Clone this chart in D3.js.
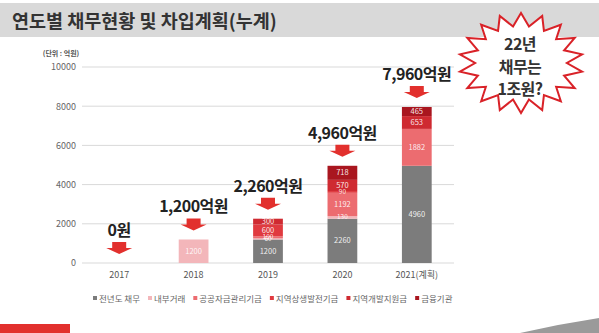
<!DOCTYPE html>
<html>
<head>
<meta charset="utf-8">
<script src="https://cdn.jsdelivr.net/npm/d3@7"></script>
<style>
  body { margin: 0; background: #fff; }
  svg { display: block; font-family: "Noto Sans CJK KR", "Noto Sans", sans-serif; }
</style>
</head>
<body>
<script>
// years and debt composition (unit: 억원)
var years = ["2017", "2018", "2019", "2020", "2021(계획)"];
var seriesNames = ["전년도 채무", "내부거래", "공공자금관리기금", "지역상생발전기금", "지역개발지원금", "금융기관"];
var prevDebt     = [0, 0, 1200, 2260, 4960];
var internal     = [0, 1200, 60, 130, 0];
var publicFund   = [0, 0, 100, 1192, 1882];
var regionalCoop = [0, 0, 600, 90, 0];
var regionalDev  = [0, 0, 300, 570, 653];
var financial    = [0, 0, 0, 718, 465];
var totalLabels  = ["0원", "1,200억원", "2,260억원", "4,960억원", "7,960억원"];
var yTicks = [0, 2000, 4000, 6000, 8000, 10000];
var burstLines = ["22년", "채무는", "1조원?"];

var colors = ["#7c7c7c", "#f3b6ba", "#ec6c70", "#e03a3f", "#cf2a31", "#a9161f"];

var w = 599, h = 333;

var rows = years.map(function(y, i) {
    return {
        year: y,
        "전년도 채무": prevDebt[i],
        "내부거래": internal[i],
        "공공자금관리기금": publicFund[i],
        "지역상생발전기금": regionalCoop[i],
        "지역개발지원금": regionalDev[i],
        "금융기관": financial[i]
    };
});
var stacked = d3.stack().keys(seriesNames)(rows);

var svg = d3.select("body").append("svg")
    .attr("width", w)
    .attr("height", h);

// title band
svg.append("rect").attr("x", 0).attr("y", 3).attr("width", w).attr("height", 34).attr("fill", "#d9d9d9");
svg.append("text")
    .attr("x", 12).attr("y", 28)
    .attr("font-size", 18.5).attr("font-weight", "bold").attr("fill", "#333")
    .text("연도별 채무현황 및 차입계획(누계)");

var x = d3.scaleBand().domain(years).range([82, 454]).paddingInner(0.6).paddingOuter(0.3);
var y = d3.scaleLinear().domain([0, 10000]).range([263, 67]);

// grid + y labels
var grid = svg.append("g").attr("id", "grid");
grid.selectAll("line").data(yTicks).enter().append("line")
    .attr("x1", 82).attr("x2", 454)
    .attr("y1", function(d) { return y(d); })
    .attr("y2", function(d) { return y(d); })
    .attr("stroke", "#d9d9d9");

var yAxis = svg.append("g").attr("transform", "translate(76,0)")
    .call(d3.axisLeft(y).tickValues(yTicks).tickSize(0).tickPadding(0).tickFormat(d3.format("d")));
yAxis.select(".domain").remove();
yAxis.selectAll("text").attr("font-size", 9).attr("fill", "#666").attr("font-family", "Noto Sans CJK KR");

svg.append("text").attr("x", 61).attr("y", 56).attr("text-anchor", "middle")
    .attr("font-size", 7).attr("font-weight", "bold").attr("fill", "#555")
    .text("(단위 : 억원)");

var xAxis = svg.append("g").attr("transform", "translate(0,272)")
    .call(d3.axisBottom(x).tickSize(0).tickPadding(0));
xAxis.select(".domain").remove();
xAxis.selectAll("text").attr("font-size", 9).attr("fill", "#555").attr("font-family", "Noto Sans CJK KR");

// stacked bars
var layers = svg.append("g").attr("id", "bars").selectAll("g")
    .data(stacked).enter().append("g")
    .attr("fill", function(d, i) { return colors[i]; });

layers.selectAll("rect")
    .data(function(d) { return d; })
    .enter().append("rect")
    .attr("x", function(d) { return x(d.data.year); })
    .attr("y", function(d) { return y(d[1]); })
    .attr("width", x.bandwidth())
    .attr("height", function(d) { return y(d[0]) - y(d[1]); });

// value labels inside segments; thin segments get a smaller font
var segLabels = [];
stacked.forEach(function(s) {
    s.forEach(function(d) {
        var v = d[1] - d[0];
        if (v > 0) segLabels.push({ year: d.data.year, v: v, mid: (d[0] + d[1]) / 2 });
    });
});
svg.append("g").selectAll("text").data(segLabels).enter().append("text")
    .attr("x", function(d) { return x(d.year) + x.bandwidth() / 2; })
    .attr("y", function(d) { return y(d.mid) + (d.v < 200 ? 2 : 2.5); })
    .attr("text-anchor", "middle")
    .attr("font-size", function(d) { return d.v < 200 ? 6.5 : 7.5; })
    .attr("fill", "#fff").attr("fill-opacity", 0.9)
    .text(function(d) { return d.v; });

// total callouts with down arrows
var totals = rows.map(function(r, i) {
    return { year: r.year, total: d3.sum(seriesNames, function(k) { return r[k]; }), label: totalLabels[i] };
});
var arrow = function(cx, tip) {
    return "M" + (cx - 7) + "," + (tip - 12) + "H" + (cx + 7) + "V" + (tip - 6) + "H" + (cx + 13) +
        "L" + cx + "," + tip + "L" + (cx - 13) + "," + (tip - 6) + "H" + (cx - 7) + "Z";
};
var callouts = svg.append("g").attr("id", "callouts");
callouts.selectAll("path").data(totals).enter().append("path")
    .attr("d", function(d) { return arrow(x(d.year) + x.bandwidth() / 2, y(d.total) - 9); })
    .attr("fill", "#e2302d");
callouts.selectAll("text").data(totals).enter().append("text")
    .attr("x", function(d) { return x(d.year) + x.bandwidth() / 2; })
    .attr("y", function(d) { return y(d.total) - 27; })
    .attr("text-anchor", "middle")
    .attr("font-size", 16).attr("font-weight", "bold").attr("fill", "#222")
    .attr("letter-spacing", -0.5)
    .text(function(d) { return d.label; });

// legend
var legend = svg.append("g").attr("id", "legend").attr("transform", "translate(93,299)");
var lx = 0;
seriesNames.forEach(function(name, i) {
    var g = legend.append("g").attr("transform", "translate(" + lx + ",0)");
    g.append("rect").attr("x", 0).attr("y", -3).attr("width", 4).attr("height", 4).attr("fill", colors[i]);
    var t = g.append("text").attr("x", 6).attr("y", 3)
        .attr("font-size", 8.5).attr("fill", "#666").text(name);
    lx += 6 + t.node().getComputedTextLength() + 8;
});

// starburst
var cx = 521, cy = 63, spikes = 18;
var pts = d3.range(spikes * 2).map(function(i) {
    var a = -Math.PI / 2 + i * Math.PI / spikes;
    var k = i % 2 === 0 ? 1 : 0.74;
    return [cx + Math.cos(a) * 62 * k, cy + Math.sin(a) * 50 * k];
});
svg.append("polygon")
    .attr("points", pts.map(function(p) { return p.join(","); }).join(" "))
    .attr("fill", "#fff").attr("stroke", "#d92228").attr("stroke-width", 2).attr("stroke-linejoin", "miter");
svg.append("g").selectAll("text").data(burstLines).enter().append("text")
    .attr("x", cx - 1)
    .attr("y", function(d, i) { return 50 + i * 22.5; })
    .attr("text-anchor", "middle")
    .attr("font-size", 16).attr("font-weight", "bold").attr("fill", "#333")
    .attr("letter-spacing", -0.5)
    .text(function(d) { return d; });

// page corner decorations
svg.append("rect").attr("x", 0).attr("y", 324).attr("width", 70).attr("height", 9).attr("fill", "#e2302d");
svg.append("polygon").attr("points", "520,333 558,325 599,318 599,333").attr("fill", "#9a9a9a");
</script>
</body>
</html>
